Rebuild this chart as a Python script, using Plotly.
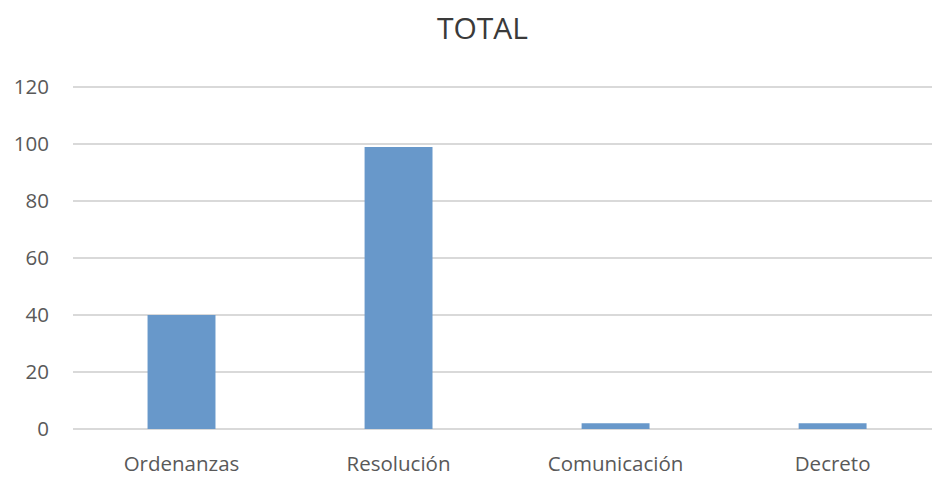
import plotly.graph_objects as go

categories = ["Ordenanzas", "Resolución", "Comunicación", "Decreto"]
values = [40, 99, 2, 2]
y_ticks = [0, 20, 40, 60, 80, 100, 120]

fig = go.Figure(go.Bar(x=categories, y=values, marker=dict(color="#6898CA", line=dict(width=0))))

fig.update_layout(
    width=932, height=477,
    paper_bgcolor="white", plot_bgcolor="white",
    margin=dict(l=73, r=0, t=86, b=45),
    bargap=0.687,
    showlegend=False,
    font=dict(family="Open Sans", color="#595959"),
    title=dict(text="TOTAL", x=482.5/932, xanchor="center", xref="container",
               y=1-28/477, yanchor="middle", yref="container",
               font=dict(size=30, color="#3A3A3A", family="Open Sans")),
)
fig.update_xaxes(range=[-0.5, 3.458], showline=False, showgrid=False,
                 tickfont=dict(size=20.5, color="#595959"), ticks="", ticklabelstandoff=20)
fig.update_yaxes(range=[0, 120.4], tickvals=y_ticks, showgrid=True, gridcolor="#D9D9D9", gridwidth=1.5,
                 zeroline=True, zerolinecolor="#D9D9D9", zerolinewidth=1.5, showline=False,
                 tickfont=dict(size=20.5, color="#595959"), ticks="", ticklabelstandoff=23)

fig.write_html("out.html", config={"displayModeBar": False},
               post_script="document.body.style.margin='0';document.body.style.overflow='hidden';")
